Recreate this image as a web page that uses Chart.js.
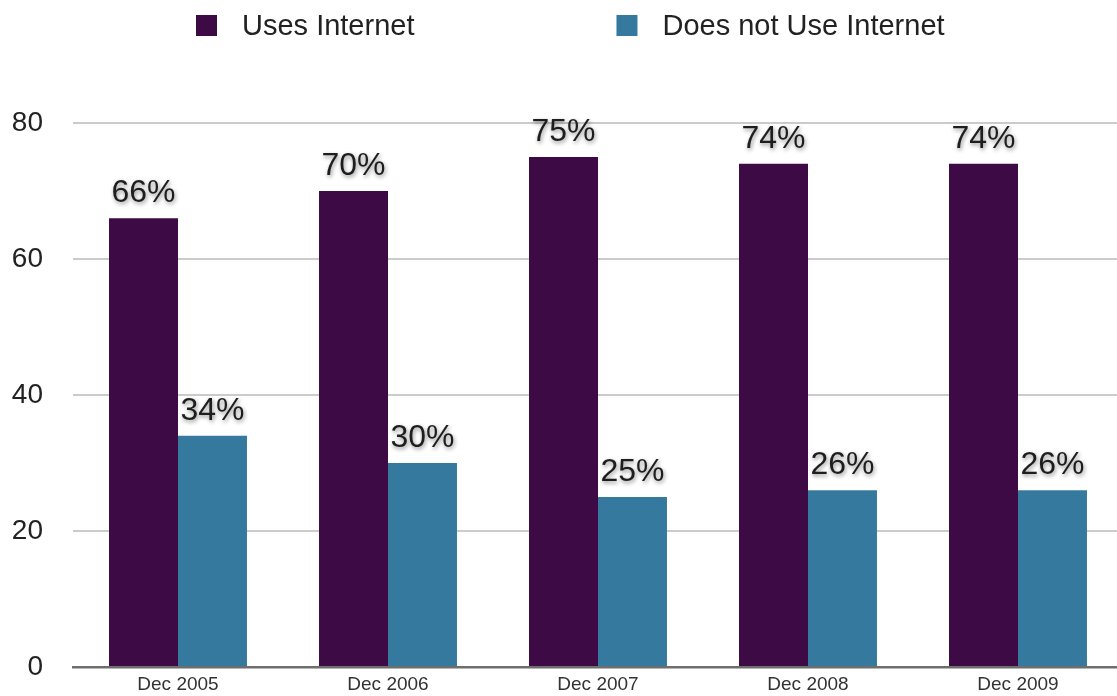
<!DOCTYPE html>
<html>
<head>
<meta charset="utf-8">
<script src="https://cdn.jsdelivr.net/npm/chart.js@4/dist/chart.umd.min.js"></script>
<style>
  html, body { margin: 0; padding: 0; background: #ffffff; overflow: hidden; }
  #wrap { position: relative; width: 1123px; height: 696px; }
</style>
</head>
<body>
<div id="wrap"><canvas id="chart"></canvas></div>
<script>
// Internet use, share of respondents (%)
const categories = ['Dec 2005', 'Dec 2006', 'Dec 2007', 'Dec 2008', 'Dec 2009'];
const usesInternet = [66, 70, 75, 74, 74];
const doesNotUseInternet = [34, 30, 25, 26, 26];
const seriesNames = ['Uses Internet', 'Does not Use Internet'];
const yTicks = [0, 20, 40, 60, 80];

const FONT = '"Liberation Sans", Arial, Helvetica, sans-serif';
const PURPLE = '#3d0a45';
const TEAL = '#357a9e';

// Percentage labels above every bar, with a soft drop shadow
const valueLabels = {
  id: 'valueLabels',
  afterDatasetsDraw(chart) {
    const ctx = chart.ctx;
    ctx.save();
    ctx.font = '32px ' + FONT;
    ctx.textAlign = 'center';
    ctx.textBaseline = 'alphabetic';
    ctx.fillStyle = '#1e1e1e';
    ctx.shadowColor = 'rgba(0,0,0,0.45)';
    ctx.shadowBlur = 4;
    ctx.shadowOffsetX = 1;
    ctx.shadowOffsetY = 2;
    chart.data.datasets.forEach((ds, di) => {
      chart.getDatasetMeta(di).data.forEach((bar, i) => {
        ctx.fillText(ds.data[i] + '%', bar.x, bar.y - 16);
      });
    });
    ctx.restore();
  }
};

// Legend row across the top: square swatch followed by series name
const topLegend = {
  id: 'topLegend',
  afterDraw(chart) {
    const ctx = chart.ctx;
    ctx.save();
    ctx.font = '29px ' + FONT;
    ctx.textBaseline = 'middle';
    const box = 21, gapText = 25, gapItem = 202, cy = 25.5;
    let x = 196;
    chart.data.datasets.forEach((ds) => {
      ctx.fillStyle = ds.backgroundColor;
      ctx.fillRect(x, cy - box / 2, box, box);
      ctx.fillStyle = '#222222';
      ctx.fillText(ds.label, x + box + gapText, cy + 1);
      x += box + gapText + ctx.measureText(ds.label).width + gapItem;
    });
    ctx.restore();
  }
};

new Chart(document.getElementById('chart'), {
  type: 'bar',
  data: {
    labels: categories,
    datasets: [
      { label: seriesNames[0], data: usesInternet, backgroundColor: PURPLE,
        categoryPercentage: 0.657, barPercentage: 1.0 },
      { label: seriesNames[1], data: doesNotUseInternet, backgroundColor: TEAL,
        categoryPercentage: 0.657, barPercentage: 1.0 }
    ]
  },
  options: {
    responsive: true,
    maintainAspectRatio: false,
    animation: false,
    layout: { padding: { top: 123, left: 12, right: 0, bottom: 0 } },
    plugins: {
      legend: { display: false },
      tooltip: { enabled: false }
    },
    scales: {
      x: {
        grid: { display: false, drawTicks: false },
        border: { display: true, color: '#6e6e6e', width: 2.5 },
        ticks: { color: '#333333', font: { family: FONT, size: 19 }, padding: 6 },
        afterFit(axis) { axis.height = 29; }
      },
      y: {
        min: 0,
        max: 80,
        afterBuildTicks(axis) { axis.ticks = yTicks.map(v => ({ value: v })); },
        grid: { color: '#cbcbcb', lineWidth: 2, drawTicks: false },
        border: { display: false },
        ticks: { color: '#222222', font: { family: FONT, size: 28 }, padding: 30 },
        afterFit(axis) {
          axis.width = 61;
          // the label gap is horizontal only; keep it out of the vertical margins
          axis.paddingTop = 0;
          axis.paddingBottom = 0;
        }
      }
    }
  },
  plugins: [valueLabels, topLegend]
});
</script>
</body>
</html>
